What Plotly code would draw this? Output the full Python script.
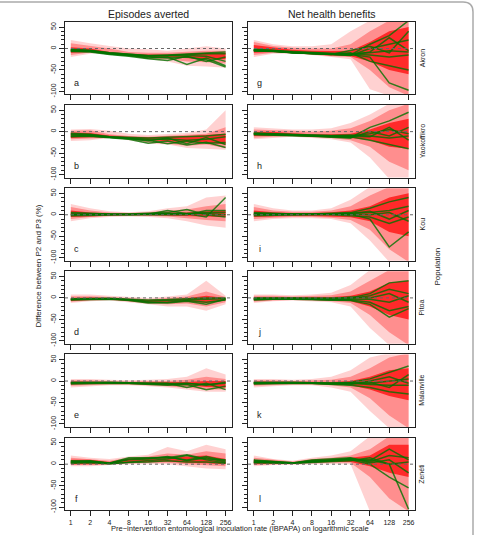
import math
import plotly.graph_objects as go

# ---------------- data ----------------
EIR = [1, 2, 4, 8, 16, 32, 64, 128, 256]
EIR_LABELS = ["1", "2", "4", "8", "16", "32", "64", "128", "256"]
Y_TICKS = [-100, -50, 0, 50]
Y_MINOR = list(range(-100, 51, 10))
POPULATIONS = ["Akron", "Yaokoffikro", "Kou", "Pitoa", "Malanville", "Zenéti"]
COLUMN_TITLES = ["Episodes averted", "Net health benefits"]
LEFT_LETTERS = ["a", "b", "c", "d", "e", "f"]
RIGHT_LETTERS = ["g", "h", "i", "j", "k", "l"]

# Episodes averted -- green scenario lines
A_LINES = [[-2, -4, -10, -14, -17, -15, -13, -10, -8],
           [-5, -6, -12, -16, -22, -20, -37, -22, -40],
           [-7, -8, -14, -18, -24, -28, -18, -30, -20],
           [-4, -5, -11, -15, -18, -17, -16, -18, -30],
           [-3, -5, -10, -13, -16, -16, -14, -12, -12],
           [-6, -7, -13, -17, -20, -22, -20, -26, -43]]
A_BANDS = [([-20, -12, -10, -18, -25, -30, -40, -42, -45], [20, 12, 6, 0, -2, -5, 0, 5, 0]),
           ([-15, -9, -14, -18, -24, -25, -30, -32, -35], [12, 6, 0, -8, -10, -10, -8, -5, -5]),
           ([-10, -8, -13, -17, -20, -20, -22, -25, -25], [3, 0, -8, -12, -14, -14, -12, -10, -10])]

B_LINES = [[-4, -6, -12, -14, -15, -13, -12, -10, -6],
           [-8, -9, -13, -16, -22, -15, -28, -14, -30],
           [-12, -11, -14, -18, -27, -22, -31, -25, -37],
           [-6, -7, -12, -15, -18, -17, -20, -18, -12],
           [-10, -10, -13, -17, -20, -28, -22, -27, -25]]
B_BANDS = [([-22, -20, -15, -20, -28, -30, -38, -40, -42], [5, 6, 2, -5, -8, -5, -3, 5, 50]),
           ([-18, -16, -15, -18, -25, -28, -33, -30, -38], [2, 3, -6, -10, -12, -10, -8, -5, 10]),
           ([-15, -13, -14, -17, -20, -22, -25, -25, -30], [-2, -3, -9, -12, -13, -12, -10, -8, -5])]

C_LINES = [[5, 3, 1, 0, 2, 2, 3, 5, 5],
           [0, 0, 0, 1, 1, 10, 2, -5, 40],
           [2, 1, 1, 2, 3, 5, 12, 0, -5],
           [-2, -1, 0, 0, 0, 0, 0, 10, 10],
           [1, 1, 0, 1, 2, 3, 3, 3, 0]]
C_BANDS = [([-15, -8, -5, -4, -5, -8, -15, -25, -30], [25, 15, 8, 6, 8, 15, 20, 40, 45]),
           ([-10, -5, -3, -2, -3, -4, -8, -12, -15], [18, 10, 5, 4, 6, 10, 12, 20, 25]),
           ([-5, -3, -2, -1, -1, -1, -2, -4, -5], [10, 5, 3, 3, 4, 5, 5, 8, 10])]

D_LINES = [[-3, -2, -2, -5, -8, -6, -4, -3, -2],
           [-5, -4, -3, -6, -12, -10, -6, -10, -5],
           [-2, -1, -1, -3, -5, -4, -2, 0, 0],
           [-4, -3, -2, -4, -10, -12, -8, -15, -3]]
D_BANDS = [([-12, -8, -6, -10, -15, -20, -20, -30, -15], [8, 8, 5, 2, 0, 3, 8, 40, 5]),
           ([-9, -6, -5, -8, -13, -15, -13, -20, -10], [4, 4, 2, -1, -3, 0, 3, 15, 2]),
           ([-7, -5, -4, -7, -11, -11, -9, -12, -6], [0, 1, 0, -2, -5, -3, -1, 5, 0])]

E_LINES = [[-5, -4, -4, -5, -6, -8, -6, -8, -5],
           [-3, -3, -3, -4, -5, -5, -15, -5, -20],
           [-7, -6, -5, -6, -8, -10, -8, -20, -12],
           [-4, -3, -3, -4, -5, -6, -5, -10, -3]]
E_BANDS = [([-15, -12, -10, -10, -12, -15, -20, -25, -25], [5, 5, 3, 2, 3, 5, 10, 30, 15]),
           ([-11, -9, -8, -8, -10, -12, -16, -20, -20], [2, 2, 0, -1, 0, 0, 3, 10, 5]),
           ([-8, -7, -6, -7, -8, -10, -10, -14, -15], [-1, -1, -2, -3, -3, -3, -2, 0, 0])]

F_LINES = [[8, 7, 2, 10, 12, 18, 8, 15, 5],
           [3, 5, 1, 5, 8, 12, 20, 10, 3],
           [6, 8, 3, 15, 15, 16, 10, 18, 8],
           [2, 3, 1, 4, 5, 8, 5, 5, 2],
           [5, 6, 2, 12, 14, 15, 22, 12, 10]]
F_BANDS = [([-5, -5, -2, 0, 0, 0, -5, -10, -12], [20, 15, 12, 18, 22, 40, 30, 45, 35]),
           ([-2, -2, 0, 2, 3, 3, 0, -3, -5], [15, 12, 8, 15, 18, 25, 22, 30, 25]),
           ([0, 0, 0, 3, 5, 6, 3, 2, 0], [10, 10, 5, 13, 15, 18, 18, 20, 12])]

# Net health benefits -- green scenario lines
G_LINES = [[-2, -4, -8, -10, -12, -12, -10, -5, -8],
           [-5, -6, -10, -12, -14, -15, 10, 30, 65],
           [-3, -5, -9, -11, -13, -14, -20, -80, -97],
           [-4, -6, -9, -12, -13, -10, -30, -40, -50],
           [-6, -7, -10, -12, -14, -16, 0, 10, 20],
           [-3, -5, -8, -10, -12, -13, -15, -20, -15],
           [-4, -5, -9, -11, -13, -15, -8, 25, -5],
           [-5, -6, -10, -11, -14, -5, 5, -10, 40]]
G_BANDS = [([-20, -12, -12, -15, -20, -25, -95, -110, -110], [20, 10, 5, 5, 10, 40, 65, 65, 65]),
           ([-15, -10, -11, -14, -18, -20, -50, -90, -110], [15, 6, 2, 0, 0, 10, 40, 65, 65]),
           ([-10, -8, -10, -13, -16, -18, -30, -50, -60], [8, 2, -3, -5, -6, -5, 15, 40, 50])]

H_LINES = [[-4, -6, -8, -9, -10, -10, -5, 5, -5],
           [-6, -7, -9, -10, -12, -14, 10, 25, 45],
           [-5, -6, -8, -10, -11, -12, -20, -30, -40],
           [-3, -5, -7, -8, -9, -8, -10, -15, -10],
           [-7, -8, -10, -11, -13, -15, 0, -10, 10],
           [-5, -6, -8, -9, -10, -11, -12, 10, -20]]
H_BANDS = [([-18, -15, -12, -15, -18, -25, -60, -110, -110], [10, 8, 5, 5, 8, 20, 40, 65, 65]),
           ([-14, -12, -11, -13, -15, -20, -35, -70, -90], [5, 4, 2, 0, 2, 8, 25, 50, 65]),
           ([-10, -10, -10, -12, -13, -15, -20, -35, -40], [0, 0, -4, -6, -6, -5, 5, 20, 30])]

I_LINES = [[3, 2, 1, 1, 2, 3, 5, 10, 20],
           [0, 0, 0, 0, 1, 2, -10, -75, -40],
           [5, 3, 2, 2, 3, 5, 15, 30, 40],
           [1, 1, 0, 0, 0, -2, -5, -20, -5],
           [-2, -1, 0, 1, 1, 3, 8, -10, 10],
           [2, 1, 1, 1, 2, 2, 0, 5, -15]]
I_BANDS = [([-15, -10, -8, -8, -10, -20, -60, -110, -110], [25, 15, 10, 10, 15, 35, 65, 65, 65]),
           ([-10, -7, -5, -5, -7, -12, -35, -80, -110], [18, 10, 7, 7, 10, 20, 45, 65, 65]),
           ([-5, -4, -3, -3, -4, -6, -15, -40, -50], [10, 6, 4, 4, 6, 10, 20, 40, 50])]

J_LINES = [[-2, -1, -1, -2, -3, -2, 5, 20, 10],
           [-4, -3, -2, -3, -5, -5, -10, -30, -20],
           [0, 0, 0, 0, -1, 0, 10, 35, 40],
           [-3, -2, -2, -3, -4, -3, -3, -10, 5],
           [-1, -1, -1, -1, -2, 2, 0, 10, -10],
           [-5, -3, -3, -4, -6, -6, -15, -45, -25]]
J_BANDS = [([-12, -8, -6, -8, -10, -20, -70, -110, -110], [8, 8, 6, 8, 12, 30, 65, 65, 65]),
           ([-9, -6, -5, -6, -8, -12, -40, -80, -110], [5, 5, 3, 4, 6, 15, 40, 65, 65]),
           ([-6, -5, -4, -5, -6, -8, -20, -40, -50], [2, 2, 1, 1, 2, 5, 15, 35, 40])]

K_LINES = [[-5, -4, -4, -5, -6, -6, -5, 0, 5],
           [-3, -3, -3, -4, -5, -3, 5, 20, 35],
           [-7, -6, -5, -6, -8, -10, -15, -25, -30],
           [-4, -3, -3, -4, -5, -5, -8, -10, -10],
           [-6, -5, -5, -5, -7, -8, 0, 10, -5],
           [-4, -4, -4, -5, -6, -4, -3, -15, 15]]
K_BANDS = [([-15, -12, -10, -10, -15, -25, -70, -110, -110], [5, 5, 3, 5, 10, 25, 55, 65, 65]),
           ([-11, -9, -8, -8, -10, -15, -40, -80, -110], [2, 2, 0, 1, 3, 10, 30, 55, 65]),
           ([-8, -7, -6, -7, -8, -10, -20, -35, -45], [-1, -1, -2, -2, -2, 0, 10, 25, 30])]

L_LINES = [[8, 5, 3, 8, 10, 12, 8, 35, 10],
           [5, 4, 2, 5, 8, 10, 0, -30, -55],
           [3, 3, 2, 4, 6, 8, 15, 0, -105],
           [10, 6, 3, 10, 12, 15, 5, 20, 15],
           [6, 5, 2, 7, 9, 11, 10, 0, 5],
           [4, 4, 2, 6, 8, 14, 3, 10, -20]]
L_BANDS = [([-5, -2, -2, 0, 0, 0, -110, -110, -110], [20, 12, 8, 15, 20, 30, 65, 65, 65]),
           ([-2, 0, 0, 2, 3, 3, -30, -80, -110], [15, 10, 6, 12, 15, 20, 35, 65, 65]),
           ([0, 1, 1, 3, 5, 5, -5, -20, -30], [10, 8, 4, 10, 12, 15, 20, 45, 45])]

LEFT_PANELS = [(A_LINES, A_BANDS), (B_LINES, B_BANDS), (C_LINES, C_BANDS),
               (D_LINES, D_BANDS), (E_LINES, E_BANDS), (F_LINES, F_BANDS)]
RIGHT_PANELS = [(G_LINES, G_BANDS), (H_LINES, H_BANDS), (I_LINES, I_BANDS),
                (J_LINES, J_BANDS), (K_LINES, K_BANDS), (L_LINES, L_BANDS)]

# ---------------- layout geometry ----------------
W, H = 479, 535
COL_X = [(65, 232), (248, 415)]
ROW_TOP0, ROW_STEP, ROW_H = 22, 83.6, 73
Y_RANGE = [-107, 62]
X_RANGE = [math.log10(2) * -0.3, math.log10(2) * 8.33]

BAND_COLORS = ["rgba(255,0,0,0.18)", "rgba(255,0,0,0.32)", "rgba(255,0,0,0.7)"]
LINE_COLOR = "rgba(0,115,0,0.8)"
FONT = "Liberation Sans, Arial, sans-serif"

fig = go.Figure()
layout = dict(width=W, height=H, margin=dict(l=0, r=0, t=0, b=0), autosize=False,
              paper_bgcolor="white", plot_bgcolor="white", showlegend=False,
              font=dict(family=FONT, color="#222"))
annotations = []
shapes = []


def ann(text, x, y, size, angle=0, **kw):
    d = dict(text=text, x=x, y=y, showarrow=False, xanchor="center", yanchor="middle",
             textangle=angle, font=dict(size=size, family=FONT, color="#222"))
    d.setdefault("xref", "paper")
    d.setdefault("yref", "paper")
    d.update(kw)
    return d


idx = 0
for col in range(2):
    panels = LEFT_PANELS if col == 0 else RIGHT_PANELS
    letters = LEFT_LETTERS if col == 0 else RIGHT_LETTERS
    for row in range(6):
        idx += 1
        xa = "x" if idx == 1 else f"x{idx}"
        ya = "y" if idx == 1 else f"y{idx}"
        lines, bands = panels[row]
        for (lo, hi), colr in zip(bands, BAND_COLORS):
            fig.add_trace(go.Scatter(x=EIR + EIR[::-1], y=hi + lo[::-1], fill="toself",
                                     fillcolor=colr, line=dict(width=0), mode="lines",
                                     hoverinfo="skip", xaxis=xa, yaxis=ya))
        for ln in lines:
            fig.add_trace(go.Scatter(x=EIR, y=ln, mode="lines",
                                     line=dict(color=LINE_COLOR, width=1.5),
                                     hoverinfo="skip", xaxis=xa, yaxis=ya))
        top = ROW_TOP0 + row * ROW_STEP
        bot = top + ROW_H
        x0, x1 = COL_X[col]
        key = "" if idx == 1 else str(idx)
        layout["xaxis" + key] = dict(
            domain=[x0 / W, x1 / W], anchor=ya, type="log", range=X_RANGE,
            tickmode="array", tickvals=EIR, ticktext=EIR_LABELS,
            showticklabels=(row == 5), ticks="outside", ticklen=5, tickwidth=1,
            tickcolor="#222", showline=True, linecolor="#222", linewidth=1, mirror=True,
            showgrid=False, zeroline=False, tickfont=dict(size=7, family=FONT, color="#222"))
        layout["yaxis" + key] = dict(
            domain=[1 - bot / H, 1 - top / H], anchor=xa, range=Y_RANGE,
            tickmode="array", tickvals=Y_TICKS, ticktext=[str(v) for v in Y_TICKS],
            showticklabels=(col == 0), tickangle=-90, ticks="outside", ticklen=5,
            tickwidth=1, tickcolor="#222",
            minor=dict(tickmode="array", tickvals=Y_MINOR, ticks="outside", ticklen=3,
                       tickcolor="#222", tickwidth=1, showgrid=False),
            showline=True, linecolor="#222", linewidth=1, mirror=True,
            showgrid=False, zeroline=False, tickfont=dict(size=7, family=FONT, color="#222"))
        shapes.append(dict(type="line", xref=f"{xa} domain", yref=ya, x0=0, x1=1, y0=0, y1=0,
                           line=dict(color="#666", width=1, dash="dot"), layer="above"))
        annotations.append(ann(letters[row], 0.07, 0.16, 9,
                               xref=f"{xa} domain", yref=f"{ya} domain"))
        if col == 1:
            annotations.append(ann(POPULATIONS[row], 422 / W, 1 - (top + ROW_H / 2) / H, 7, -90))

# column titles
for (x0, x1), t in zip(COL_X, COLUMN_TITLES):
    annotations.append(ann(t, (x0 + x1) / 2 / W, 1 - 14 / H, 10.5))
# axis titles
annotations.append(ann("Difference between P2 and P3 (%)", 38 / W, 1 - 268 / H, 8, -90))
annotations.append(ann("Population", 437 / W, 1 - 268 / H, 8, -90))
annotations.append(ann("Pre\u2212intervention entomological inoculation rate (IBPAPA) on logarithmic scale",
                       240 / W, 1 - 531.5 / H, 7.5))

# outer figure frame
shapes.append(dict(type="path", xref="paper", yref="paper",
                   path=f"M 0,{1 - 2 / H} L {463 / W},{1 - 2 / H} Q {473 / W},{1 - 2 / H} {473 / W},{1 - 12 / H} L {473 / W},-0.02",
                   line=dict(color="#aaa", width=1.5)))

layout["annotations"] = annotations
layout["shapes"] = shapes
fig.update_layout(**layout)
fig.write_html("out.html")
